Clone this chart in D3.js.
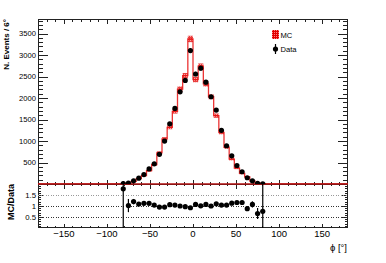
<!DOCTYPE html>
<html><head><meta charset="utf-8">
<script src="https://cdn.jsdelivr.net/npm/d3@7"></script>
<style>body{margin:0;background:#fff}svg{display:block}text{font-family:"Liberation Sans",Arial,sans-serif;fill:#000}</style>
</head><body><svg id="c" width="386" height="263"></svg>
<script>
// ---- data ----
const binCenters = [-81,-75,-69,-63,-57,-51,-45,-39,-33,-27,-21,-15,-9,-3,3,9,15,21,27,33,39,45,51,57,63,69,75,81];
const dataValues = [8,20,75,135,220,350,470,690,1000,1400,1760,2145,2410,3105,2560,2695,2370,2030,1720,1250,890,655,430,285,145,75,15,5];
const dataErrors = [60,15,10,12,15,19,22,26,32,37,42,46,49,56,51,52,49,45,41,35,30,26,21,17,12,9,6,4];
const mcValues   = [5,20,62,124,196,312,452,726,1050,1320,1690,2210,2520,3375,2430,2740,2330,2030,1590,1200,855,580,370,245,165,70,23,7];
const mcErrors   = [3,6,10,14,18,22,27,34,40,46,52,60,64,75,62,66,60,56,50,43,36,30,24,20,16,10,6,3];
const ratioValues = [1.78,1.02,1.2,1.09,1.12,1.12,1.04,0.95,0.95,1.06,1.04,1.0,0.97,0.92,1.07,1.01,1.07,1.0,1.1,1.04,1.04,1.13,1.16,1.16,0.88,1.07,0.66,0.76];
const ratioErrors = [2.5,0.3,0.12,0.07,0.05,0.04,0.03,0.03,0.03,0.03,0.03,0.03,0.03,0.03,0.03,0.03,0.03,0.03,0.03,0.03,0.03,0.04,0.05,0.06,0.1,0.14,0.25,2.5];
const binWidth = 6;
const xDomain = [-180, 180];
const xTicks = [-150,-100,-50,0,50,100,150];
const yTicks = [500,1000,1500,2000,2500,3000,3500];
const ratioTicks = [0.5,1,1.5];
const ratioTickLabels = ["0.5","1","1.5"];
const legendItems = ["MC","Data"];

// ---- layout ----
const L = 38, R = 348, T = 19, MB = 184, RB = 228;
const svg = d3.select("#c");
const x = d3.scaleLinear().domain(xDomain).range([L, R]);
const y = d3.scaleLinear().domain([0, 3840]).range([MB, T]);
const yr = d3.scaleLinear().domain([0, 2]).range([RB, MB]);

const defs = svg.append("defs");
const pat = defs.append("pattern").attr("id","hatch").attr("patternUnits","userSpaceOnUse")
  .attr("width",2).attr("height",2);
pat.append("rect").attr("width",2).attr("height",2).attr("fill","#e00000");
pat.append("rect").attr("width",1).attr("height",1).attr("fill","#ff8080");
defs.append("clipPath").attr("id","clipMain").append("rect").attr("x",L).attr("y",T).attr("width",R-L).attr("height",MB-T);
defs.append("clipPath").attr("id","clipRatio").append("rect").attr("x",L).attr("y",MB).attr("width",R-L).attr("height",RB-MB);

const ax = "#222";
// minor tick helper
function range(a,b,s){const r=[];for(let v=a;v<=b+1e-9;v+=s)r.push(+v.toFixed(6));return r;}
const xMinor = range(-170,170,10);
const yMinor = range(100,3800,100);
const rMinor = range(0.1,1.9,0.1);

// ---- main pad ticks ----
const gt = svg.append("g").attr("stroke",ax).attr("stroke-width",1).attr("shape-rendering","crispEdges");
// left / right y ticks
yMinor.forEach(v=>{
  const maj = v%500===0, len = maj?10:5, yy = Math.round(y(v))+0.5;
  gt.append("line").attr("x1",L).attr("x2",L+len).attr("y1",yy).attr("y2",yy);
  gt.append("line").attr("x1",R-len).attr("x2",R).attr("y1",yy).attr("y2",yy);
});
// top and main-bottom x ticks
xMinor.forEach(v=>{
  const maj = v%50===0, xx = Math.round(x(v))+0.5;
  const len = maj?5:2.5;
  gt.append("line").attr("x1",xx).attr("x2",xx).attr("y1",T).attr("y2",T+len);
  gt.append("line").attr("x1",xx).attr("x2",xx).attr("y1",MB-(maj?4.5:2)).attr("y2",MB+(maj?4.5:2));
  gt.append("line").attr("x1",xx).attr("x2",xx).attr("y1",RB-(maj?4.5:2)).attr("y2",RB);
});
// ratio y ticks
rMinor.forEach(v=>{
  const maj = Math.abs(v*2-Math.round(v*2))<1e-6, len = maj?6:3, yy = Math.round(yr(v))+0.5;
  gt.append("line").attr("x1",L).attr("x2",L+len).attr("y1",yy).attr("y2",yy);
  gt.append("line").attr("x1",R-len).attr("x2",R).attr("y1",yy).attr("y2",yy);
});
// frames
svg.append("rect").attr("x",L+0.5).attr("y",T+0.5).attr("width",R-L-1).attr("height",RB-T-1)
  .attr("fill","none").attr("stroke",ax).attr("shape-rendering","crispEdges");
svg.append("line").attr("x1",L).attr("x2",R).attr("y1",MB+0.5).attr("y2",MB+0.5).attr("stroke",ax).attr("shape-rendering","crispEdges");

// ---- y labels ----
svg.append("g").selectAll("text").data(yTicks).join("text")
  .attr("x",36).attr("y",d=>y(d)+2.7).attr("text-anchor","end").attr("font-size",7.6).text(d=>d);
svg.append("g").selectAll("text").data(ratioTicks).join("text")
  .attr("x",36).attr("y",d=>yr(d)+2.8).attr("text-anchor","end").attr("font-size",7.8)
  .text((d,i)=>ratioTickLabels[i]);
svg.append("g").selectAll("text").data(xTicks).join("text")
  .attr("x",d=>x(d)).attr("y",237).attr("text-anchor","middle").attr("font-size",9.5)
  .text(d=>d<0?"\u2212"+Math.abs(d):d);
svg.append("text").attr("x",347).attr("y",251).attr("text-anchor","end").attr("font-size",9.5).text("\u03d5 [\u00b0]");
svg.append("text").attr("transform","translate(8.5,19) rotate(-90)").attr("text-anchor","end")
  .attr("font-size",8).attr("font-weight","bold").text("N. Events / 6\u00b0");
svg.append("text").attr("transform","translate(14,184) rotate(-90)").attr("text-anchor","end")
  .attr("font-size",9).attr("font-weight","bold").text("MC/Data");

// ---- MC histogram ----
const allEdges = range(xDomain[0], xDomain[1]-binWidth, binWidth);
const mcFull = allEdges.map(e=>{const i=binCenters.indexOf(e+binWidth/2);return i<0?0:mcValues[i];});
const stepPts = allEdges.map((e,i)=>[e,mcFull[i]]).concat([[xDomain[1], mcFull[mcFull.length-1]]]);
const gm = svg.append("g").attr("clip-path","url(#clipMain)");
gm.selectAll("rect.band").data(binCenters).join("rect").attr("class","band")
  .attr("x",(d)=>x(d-binWidth/2)).attr("width",x(binWidth)-x(0))
  .attr("y",(d,i)=>y(mcValues[i]+mcErrors[i])).attr("height",(d,i)=>y(mcValues[i]-mcErrors[i])-y(mcValues[i]+mcErrors[i]))
  .attr("fill","url(#hatch)").attr("opacity",0.75);
gm.append("path").datum(stepPts).attr("fill","none").attr("stroke","#e81010").attr("stroke-width",1.3).attr("opacity",0.85)
  .attr("d",d3.line().x(d=>x(d[0])).y(d=>y(d[1])).curve(d3.curveStepAfter));
svg.append("line").attr("x1",L).attr("x2",R).attr("y1",MB).attr("y2",MB).attr("stroke","#b01010").attr("stroke-width",1.3);

// ---- data points ----
const gd = svg.append("g").attr("clip-path","url(#clipMain)");
gd.selectAll("line").data(binCenters).join("line")
  .attr("x1",d=>x(d)).attr("x2",d=>x(d))
  .attr("y1",(d,i)=>y(dataValues[i]-dataErrors[i])).attr("y2",(d,i)=>y(dataValues[i]+dataErrors[i]))
  .attr("stroke","#000").attr("stroke-width",1.2);
gd.selectAll("circle").data(binCenters).join("circle")
  .attr("cx",d=>x(d)).attr("cy",(d,i)=>y(dataValues[i])).attr("r",2.6).attr("fill","#000");

// ---- ratio pad ----
const gr = svg.append("g").attr("clip-path","url(#clipRatio)");
gr.selectAll("line.ref").data(ratioTicks).join("line").attr("class","ref")
  .attr("x1",L).attr("x2",R).attr("y1",d=>Math.round(yr(d))+0.5).attr("y2",d=>Math.round(yr(d))+0.5)
  .attr("stroke",d=>d===1.5?"#999":"#333").attr("stroke-dasharray","1,1.5").attr("shape-rendering","crispEdges");
gr.selectAll("line.err").data(binCenters).join("line").attr("class","err")
  .attr("x1",d=>x(d)).attr("x2",d=>x(d))
  .attr("y1",(d,i)=>yr(ratioValues[i]-ratioErrors[i])).attr("y2",(d,i)=>yr(ratioValues[i]+ratioErrors[i]))
  .attr("stroke","#000").attr("stroke-width",1.2);
gr.selectAll("circle").data(binCenters).join("circle")
  .attr("cx",d=>x(d)).attr("cy",(d,i)=>yr(ratioValues[i])).attr("r",2.6).attr("fill","#000");

// ---- legend ----
const lg = svg.append("g");
lg.append("rect").attr("x",272).attr("y",30).attr("width",7).attr("height",9).attr("fill","url(#hatch)");
lg.append("line").attr("x1",275.5).attr("x2",275.5).attr("y1",44).attr("y2",54).attr("stroke","#000").attr("stroke-width",1.2);
lg.append("circle").attr("cx",275.5).attr("cy",49).attr("r",2.6).attr("fill","#000");
lg.selectAll("text").data(legendItems).join("text").attr("x",280.5).attr("y",(d,i)=>i?51.7:37.5)
  .attr("font-size",7.6).text(d=>d);
</script></body></html>
